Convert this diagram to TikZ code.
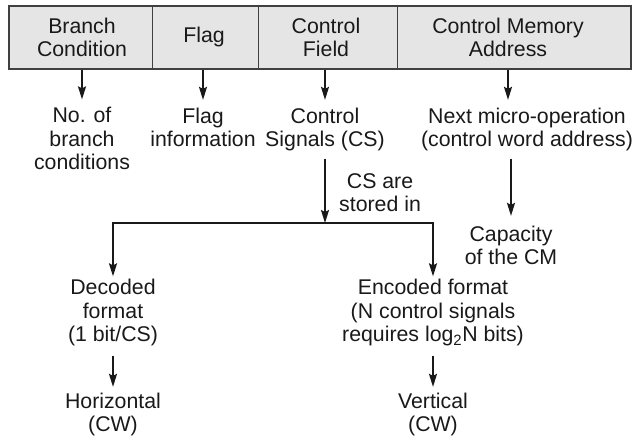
\documentclass[tikz,border=0pt]{standalone}
\usepackage{fontspec}
\setmainfont{Liberation Sans}
\usetikzlibrary{arrows.meta}
\begin{document}
\begin{tikzpicture}[x=1pt,y=-1pt,
  txt/.style={align=center, inner sep=0pt, anchor=base, text=black!90,
    font=\fontsize{21.3}{23.5}\selectfont},
  arr/.style={-{Stealth[length=13pt,width=8pt,inset=2pt]}, line width=1.8pt, draw=black!90},
  barstyle/.style={draw=black!75, line width=1.2pt, fill=black!10, inner sep=0pt,
    minimum width=622pt, minimum height=63pt}]
\useasboundingbox (0,0) rectangle (633,438);

% instruction word fields (node base = baseline of the last line)
\node[barstyle] (bar) at (320,37.5) {};
\foreach \d in {144,250,389}
  \draw[draw=black!75, line width=1.2pt] ([xshift=\d pt]bar.north west) -- ([xshift=\d pt]bar.south west);

\node[txt] (bc) at (82,57) {Branch\\Condition};
\node[txt] (fl) at (204,43) {Flag};
\node[txt] (cf) at (326,57) {Control\\Field};
\node[txt] (cm) at (508,57) {Control Memory\\Address};

% meaning of each field
\node[txt] (nb) at (82,170) {No. of\\branch\\conditions};
\node[txt] (fi) at (203,147) {Flag\\information};
\node[txt] (cs) at (325,147) {Control\\Signals (CS)};
\node[txt] (nm) at (527,147) {Next micro-operation\\(control word address)};

\draw[arr] (nb |- bar.south) -- ([yshift=8pt]nb.north);
\draw[arr] (fi |- bar.south) -- ([yshift=8pt]fi.north);
\draw[arr] (cs |- bar.south) -- ([yshift=8pt]cs.north);
\draw[arr] (cm |- bar.south) -- ([yshift=8pt]cm |- nm.north);

% control memory capacity
\node[txt] (cap) at (511,265) {Capacity\\of the CM};
\draw[arr] ([yshift=-7pt]cap |- nm.south) -- ([yshift=10pt]cap.north);

% storage formats of the control signals
\coordinate (split) at (325,223);
\node[txt, anchor=base west] (store) at (339,212) {CS are\\stored in};
\node[txt] (dec) at (113,342) {Decoded\\format\\(1 bit/CS)};
\node[txt] (enc) at (433,342) {Encoded format\\(N control signals\\requires log\textsubscript{2}N bits)};

\draw[arr] ([yshift=-7pt]cs.south) -- (split);
\draw[arr] (split) -| ([yshift=3pt]dec.north);
\draw[arr] (split) -| ([yshift=3pt]enc.north);

\node[txt] (hor) at (113,432) {Horizontal\\(CW)};
\node[txt] (ver) at (433,432) {Vertical\\(CW)};

\draw[arr] ([yshift=-9pt]dec.south) -- ([yshift=6pt]hor.north);
\draw[arr] ([yshift=-9pt]enc.south) -- ([yshift=6pt]ver.north);
\end{tikzpicture}
\end{document}
